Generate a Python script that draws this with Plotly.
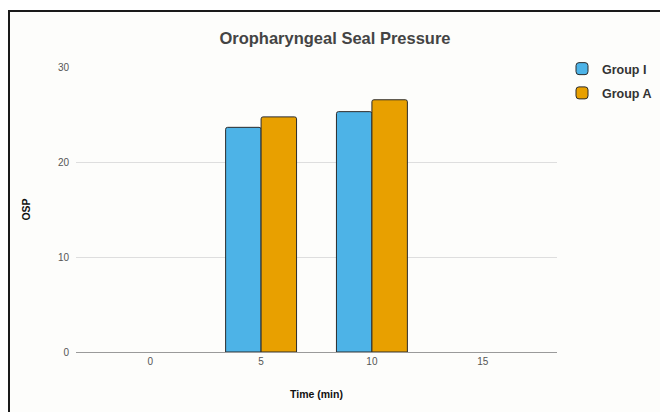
import plotly.graph_objects as go

categories = ["0", "5", "10", "15"]
group_i = [None, 23.65, 25.3, None]
group_a = [None, 24.75, 26.55, None]
series_names = ["Group I", "Group A"]
colors = ["#4DB3E7", "#E8A000"]

W, H = 660, 412
L, R, T, B = 76, 103, 67, 60
pw = W - L - R
ph = H - T - B

def px_x(x):
    return (x - L) / pw

def px_y(y):
    return (H - B - y) / ph

fig = go.Figure()
for name, vals, col, grp in zip(series_names, [group_i, group_a], colors, ["a", "b"]):
    fig.add_trace(go.Bar(
        x=categories, y=vals, name=name, legendgroup=grp,
        marker=dict(color=col, line=dict(color="#2b2b2b", width=1), cornerradius=2),
    ))

fig.update_layout(
    width=W, height=H,
    margin=dict(l=L, r=R, t=T, b=B, autoexpand=False),
    paper_bgcolor="white",
    plot_bgcolor="rgba(0,0,0,0)",
    barmode="group", bargap=0.36, bargroupgap=0,
    font=dict(family="Liberation Sans, Arial, sans-serif", color="#555"),
    title=dict(text="<b>Oropharyngeal Seal Pressure</b>", x=335 / W, xref="container", xanchor="center",
               y=1 - 38 / H, yref="container", yanchor="middle",
               font=dict(size=16.5, color="#444", family="Liberation Sans, Arial, sans-serif")),
    xaxis=dict(type="category", range=[-0.67, 3.67], showgrid=False, showline=True,
               linecolor="#9a9a9a", linewidth=1, ticks="", tickfont=dict(size=10, color="#555"),
               title=dict(text="<b>Time (min)</b>", font=dict(size=10.5, color="#111"), standoff=24),
               zeroline=False),
    yaxis=dict(range=[0, 30], tickvals=[0, 10, 20, 30], showgrid=True, gridcolor="#dedede", gridwidth=1,
               zeroline=False, showline=False, ticks="", ticklabelstandoff=6,
               tickfont=dict(size=10, color="#555"),
               title=dict(text="<b>OSP</b>", font=dict(size=10.5, color="#111"), standoff=25),
               ),
    legend=dict(x=px_x(562), y=px_y(54), xanchor="left", yanchor="top", tracegroupgap=5,
                font=dict(size=12.5, color="#333", family="Liberation Sans, Arial, sans-serif", weight="bold"),
                bgcolor="rgba(0,0,0,0)"),
    shapes=[dict(type="rect", xref="paper", yref="paper", layer="below",
                 x0=px_x(9), x1=px_x(700), y0=px_y(440), y1=px_y(11),
                 line=dict(color="#1a1a1a", width=2), fillcolor="#fdfdfb")],
)

fig.write_html("out.html")
